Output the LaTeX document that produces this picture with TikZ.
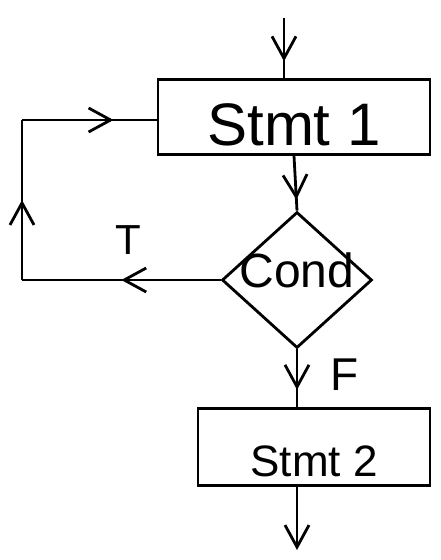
\documentclass[tikz,border=0pt]{standalone}
\usepackage{fontspec}
\setmainfont{Liberation Sans}
\usetikzlibrary{shapes, arrows.meta, calc, decorations.markings}

\tikzset{flow/.style={postaction={decorate}, decoration={markings,
	mark=at position #1 with {\arrow{Straight Barb[length=22pt,width=24pt]}}}},
	flow/.default=0.5}

\begin{document}
\begin{tikzpicture}[x=1pt, y=-1pt, line width=2.8pt]
	\tikzstyle{box} = [draw, rectangle, inner sep=0pt, text height=56pt, text depth=0pt]
	\tikzstyle{decision} = [draw, diamond, minimum width=150pt,
	minimum height=136pt, inner sep=0pt]
	\tikzstyle{tag} = [inner sep=0pt]

	\useasboundingbox (0,0) rectangle (441,560);

	% statements and the test
	\node[box, minimum width=272pt, minimum height=75pt] (stmtA) at (294,117)
		{\fontsize{60}{64}\selectfont Stmt 1};
	\node[decision, label={[font=\fontsize{48}{52}\selectfont, yshift=10pt]center:Cond}]
		(cond) at (297,280) {};
	\node[box, minimum width=232pt, minimum height=77pt, text height=58pt] (stmtB) at (314,447)
		{\fontsize{44}{48}\selectfont Stmt 2};

	\node[tag, font=\fontsize{42}{46}\selectfont] (t) at (128,240) {T};
	\node[tag, font=\fontsize{46}{50}\selectfont] (f) at (345,375) {F};

	\coordinate (top) at (284,18);
	\coordinate (bottom) at (297,550);
	\coordinate (loopL) at (22,280);
	\coordinate (loopU) at (22,120);

	% main flow
	\draw[flow=0.72] (top) -- (top |- stmtA.north);
	\draw[flow=0.8] (stmtA.south) -- (cond.north);
	\draw[flow=0.7] (cond.south) -- (cond.south |- stmtB.north);
	\draw[-{Straight Barb[length=22pt,width=24pt]}] (cond.south |- stmtB.south) -- (bottom);

	% loop back when true
	\draw[flow=0.5] (cond.west) -- (loopL);
	\draw[flow=0.5] (loopL) -- (loopU);
	\draw[flow=0.68] (loopU) -- (loopU -| stmtA.west);
\end{tikzpicture}
\end{document}
